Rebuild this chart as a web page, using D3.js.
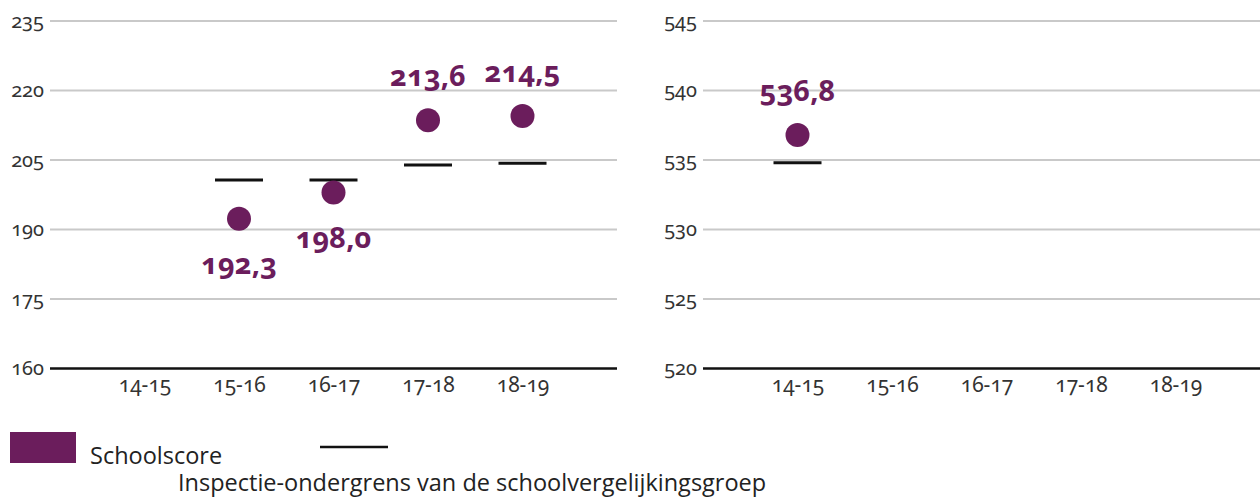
<!DOCTYPE html>
<html>
<head>
<meta charset="utf-8">
<script src="https://cdn.jsdelivr.net/npm/d3@7"></script>
<style>
  html, body { margin: 0; padding: 0; background: #fff; }
  svg { display: block; }
  .num { font-family: "Noto Sans", sans-serif; font-variant-numeric: oldstyle-nums; font-feature-settings: "onum" 1; }
  .legend { font-family: "Open Sans", "Noto Sans", sans-serif; }
</style>
</head>
<body>
<svg id="chart" width="1260" height="498"></svg>
<script>
// School years shown on both panels
const categories = ["14-15", "15-16", "16-17", "17-18", "18-19"];

// Left panel: school score and inspection lower bound per year
const leftScores     = [null, 192.3, 198.0, 213.6, 214.5];
const leftThresholds = [null, 200.7, 200.7, 203.9, 204.3];
const leftTicks      = [160, 175, 190, 205, 220, 235];

// Right panel: school score and inspection lower bound per year
const rightScores     = [536.8, null, null, null, null];
const rightThresholds = [534.8, null, null, null, null];
const rightTicks      = [520, 525, 530, 535, 540, 545];

const purple = "#6b1d5c";
const svg = d3.select("#chart");

const plotTop = 21, plotBottom = 368.5;
const fmt = v => v.toFixed(1).replace(".", ",");

function panel(x0, x1, ticks, scores, thresholds) {
  const g = svg.append("g");
  const x = d3.scalePoint().domain(categories).range([x0, x1]).padding(1);
  const y = d3.scaleLinear().domain([ticks[0], ticks[ticks.length - 1]]).range([plotBottom, plotTop]);

  // value labels of the horizontal gridlines
  const yAxis = d3.axisLeft(y).tickValues(ticks).tickSize(0).tickPadding(6).tickFormat(d3.format("d"));
  const ya = g.append("g").attr("transform", `translate(${x0},0)`).call(yAxis);
  ya.select(".domain").remove();
  ya.selectAll("text").attr("class", "num").attr("font-size", 20).attr("fill", "#333");

  g.append("g").selectAll("line").data(ticks.slice(1)).join("line")
    .attr("x1", x0).attr("x2", x1)
    .attr("y1", d => y(d)).attr("y2", d => y(d))
    .attr("stroke", "#c9c9c9").attr("stroke-width", 2);

  // baseline
  g.append("line")
    .attr("x1", x0).attr("x2", x1)
    .attr("y1", y(ticks[0])).attr("y2", y(ticks[0]))
    .attr("stroke", "#111").attr("stroke-width", 2.6);

  // category labels
  const xAxis = d3.axisBottom(x).tickSize(0).tickPadding(9);
  const xa = g.append("g").attr("transform", `translate(0,${plotBottom})`).call(xAxis);
  xa.select(".domain").remove();
  xa.selectAll("text").attr("class", "num").attr("font-size", 21).attr("fill", "#333");

  const rows = categories.map((c, i) => ({ c, s: scores[i], t: thresholds[i] }));

  // inspection lower bound markers
  g.append("g").selectAll("line").data(rows.filter(d => d.t != null)).join("line")
    .attr("x1", d => x(d.c) - 24).attr("x2", d => x(d.c) + 24)
    .attr("y1", d => y(d.t)).attr("y2", d => y(d.t))
    .attr("stroke", "#111").attr("stroke-width", 3);

  // school score dots
  const pts = rows.filter(d => d.s != null);
  g.append("g").selectAll("circle").data(pts).join("circle")
    .attr("cx", d => x(d.c)).attr("cy", d => y(d.s)).attr("r", 12)
    .attr("fill", purple);

  // value labels: above the dot when at or over the bound, below otherwise
  g.append("g").selectAll("text").data(pts).join("text")
    .attr("class", "num")
    .attr("x", d => x(d.c))
    .attr("y", d => y(d.s) + (d.s >= d.t ? -44 : 45))
    .attr("dy", "0.35em")
    .attr("text-anchor", "middle")
    .attr("font-size", 29).attr("font-weight", 700)
    .attr("fill", purple)
    .text(d => fmt(d.s));
}

panel(50, 617, leftTicks, leftScores, leftThresholds);
panel(703, 1270, rightTicks, rightScores, rightThresholds);

// legend
const lg = svg.append("g").attr("class", "legend");
lg.append("rect").attr("x", 10).attr("y", 432).attr("width", 66).attr("height", 31).attr("fill", purple);
lg.append("text").attr("x", 90).attr("y", 464).attr("font-size", 23.5).attr("fill", "#222").text("Schoolscore");
lg.append("line").attr("x1", 320).attr("x2", 388).attr("y1", 447).attr("y2", 447)
  .attr("stroke", "#111").attr("stroke-width", 2.5);
lg.append("text").attr("x", 178).attr("y", 491).attr("font-size", 23.5).attr("fill", "#222")
  .text("Inspectie-ondergrens van de schoolvergelijkingsgroep");
</script>
</body>
</html>
